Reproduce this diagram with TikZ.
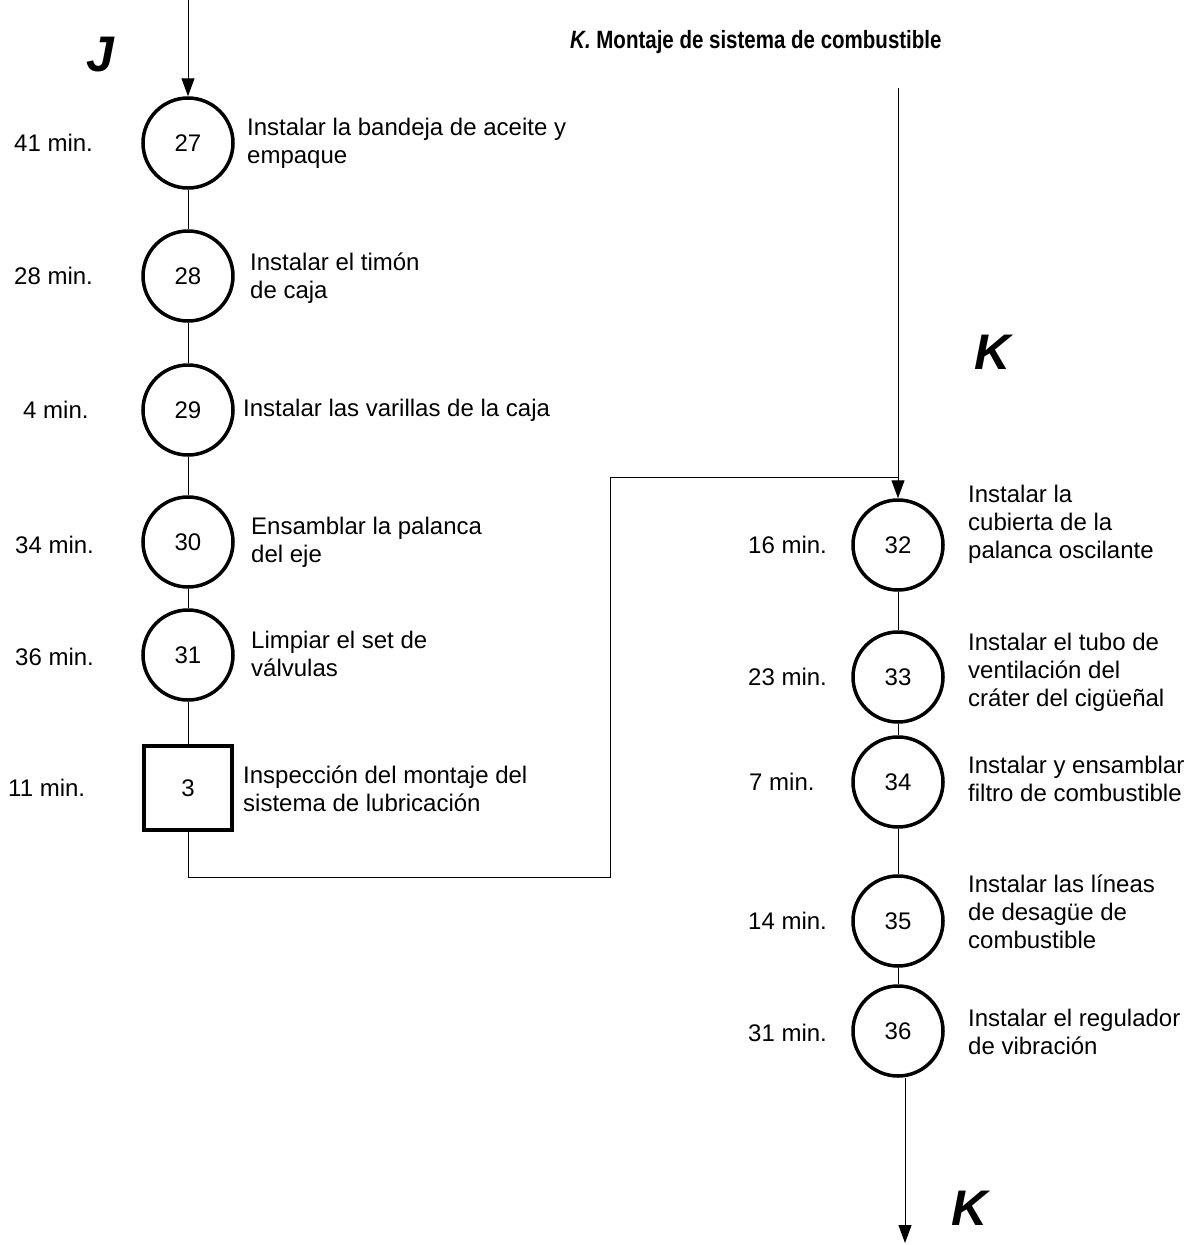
\documentclass[tikz,border=0pt]{standalone}
\usepackage{fontspec}
\setmainfont{Liberation Sans}
\usetikzlibrary{arrows.meta}
\begin{document}
\begin{tikzpicture}[x=1pt,y=-1pt,
  every node/.style={font=\fontsize{24}{28}\selectfont},
  opcirc/.style={circle,draw,line width=3.5pt,minimum size=90pt,inner sep=0pt},
  inspbox/.style={rectangle,draw,line width=4pt,minimum width=88pt,minimum height=84pt,inner sep=0pt},
  desc/.style={anchor=west,align=left,inner sep=0pt},
  tlabel/.style={anchor=west,inner sep=0pt},
  link/.style={line width=1pt},
  arr/.style={line width=1pt,-{Triangle[length=18pt,width=13pt]}},
  bigletter/.style={font=\fontsize{50}{50}\selectfont\bfseries\itshape,inner sep=0pt}
]
\useasboundingbox (0,0) rectangle (1198,1245);

% ---- left column: J ----
\node[bigletter] (jlet) at (100,55) {J};
\coordinate (jin) at (188,0);

\node[opcirc] (c27) at (188,143) {27};
\node[opcirc] (c28) at (188,276) {28};
\node[opcirc] (c29) at (188,410) {29};
\node[opcirc] (c30) at (188,542) {30};
\node[opcirc] (c31) at (188,655) {31};
\node[inspbox] (s3) at (188,788) {3};

\node[tlabel] (t27) at (14,143) {41 min.};
\node[tlabel] (t28) at (14,276) {28 min.};
\node[tlabel] (t29) at (23,410) {4 min.};
\node[tlabel] (t30) at (15,545) {34 min.};
\node[tlabel] (t31) at (15,657) {36 min.};
\node[tlabel] (t3)  at (8,788)  {11 min.};

\node[desc] (d27) at (247,143) {Instalar la bandeja de aceite y\\empaque};
\node[desc] (d28) at (250,278) {Instalar el timón\\de caja};
\node[desc] (d29) at (243,410) {Instalar las varillas de la caja};
\node[desc] (d30) at (251,542) {Ensamblar la palanca\\del eje};
\node[desc] (d31) at (251,654) {Limpiar el set de\\válvulas};
\node[desc] (d3)  at (243,789) {Inspección del montaje del\\sistema de lubricación};

\draw[arr] (jin) -- (c27.north);
\draw[link] (c27) -- (c28);
\draw[link] (c28) -- (c29);
\draw[link] (c29) -- (c30);
\draw[link] (c30) -- (c31);
\draw[link] (c31) -- (s3);

% ---- right column: K ----
\node[font=\fontsize{25}{28}\selectfont\bfseries,anchor=west,inner sep=0pt] (title)
  at (570,42) {\scalebox{0.82}[1]{\textit{K.} Montaje de sistema de combustible}};
\node[bigletter] (klet) at (993,352) {K};
\coordinate (kin) at (898,88);
\coordinate (join) at (898,477);
\coordinate (bendA) at (188,877);
\coordinate (bendB) at (610,877);
\coordinate (bendC) at (610,477);

\node[opcirc] (c32) at (898,545) {32};
\node[opcirc] (c33) at (898,677) {33};
\node[opcirc] (c34) at (898,782) {34};
\node[opcirc] (c35) at (898,921) {35};
\node[opcirc] (c36) at (898,1031) {36};

\node[tlabel] (t32) at (748,545) {16 min.};
\node[tlabel] (t33) at (748,677) {23 min.};
\node[tlabel] (t34) at (749,782) {7 min.};
\node[tlabel] (t35) at (748,921) {14 min.};
\node[tlabel] (t36) at (748,1033) {31 min.};

\node[desc] (d32) at (968,524) {Instalar la\\cubierta de la\\palanca oscilante};
\node[desc] (d33) at (968,672) {Instalar el tubo de\\ventilación del\\cráter del cigüeñal};
\node[desc] (d34) at (968,779) {Instalar y ensamblar\\filtro de combustible};
\node[desc] (d35) at (968,912) {Instalar las líneas\\de desagüe de\\combustible};
\node[desc] (d36) at (968,1032) {Instalar el regulador\\de vibración};

\draw[link] (s3.south) -- (bendA) -- (bendB) -- (bendC) -- (join);
\draw[link] (kin) -- (join);
\draw[arr] (join) -- (c32.north);
\draw[link] (c32) -- (c33);
\draw[link] (c33) -- (c34);
\draw[link] (c34) -- (c35);
\draw[link] (c35) -- (c36);

\node[bigletter] (kout) at (970,1208) {K};
\coordinate (kend) at (905,1243);
\draw[arr] (c36.south -| kend) -- (kend);
\end{tikzpicture}
\end{document}
